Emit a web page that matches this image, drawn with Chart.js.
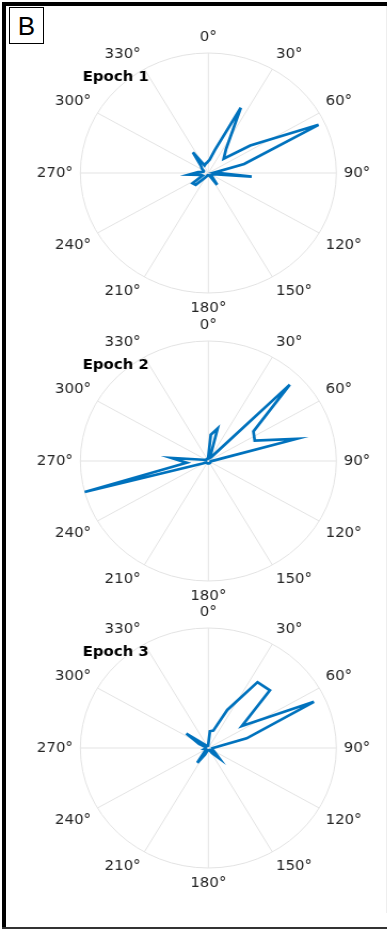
<!DOCTYPE html>
<html>
<head>
<meta charset="utf-8">
<title>Epoch polar plots</title>
<script src="https://cdn.jsdelivr.net/npm/chart.js@4/dist/chart.umd.min.js"></script>
<style>
  html, body { margin: 0; padding: 0; background: #fff; }
  #page { position: relative; width: 387px; height: 929px; overflow: hidden; background: #fff; }
  .rule { position: absolute; background: #000; }
  .panel { position: absolute; left: 0; width: 363px; height: 320px; transform: scaleX(1.0667); transform-origin: 0 0; }
  .panel canvas { display: block; }
  #tag { position: absolute; left: 9px; top: 7px; width: 33px; height: 35px; border: 1.5px solid #000;
         font: 26px "Liberation Sans", Arial, sans-serif; color: #000; text-align: center; line-height: 36px; }
</style>
</head>
<body>
<div id="page">
  <div class="rule" style="left:2px;top:2px;right:0;height:4px;"></div>
  <div class="rule" style="left:2px;top:2px;width:4px;bottom:0;"></div>
  <div class="rule" style="left:2px;right:0;top:927px;height:2px;background:#333;"></div>
  <div class="rule" style="left:386px;top:6px;width:1px;bottom:16px;background:#eee;"></div>
  <div id="tag">B</div>
  <div class="panel" style="top:13px"><canvas id="c1" width="363" height="320"></canvas></div>
  <div class="panel" style="top:301px"><canvas id="c2" width="363" height="320"></canvas></div>
  <div class="panel" style="top:588px"><canvas id="c3" width="363" height="320"></canvas></div>
</div>
<script>
// Angular tick labels, every 30 degrees, clockwise from the top.
const angleTicks = ['0°', '30°', '60°', '90°', '120°', '150°', '180°', '210°', '240°', '270°', '300°', '330°'];

// Radial values per 10° bin, bin centres at 5°, 15°, ..., 355°.
const epoch1 = [
  0.11, 0.20, 0.60, 0.24, 0.17, 0.40, 0.95, 0.29, 0.05, 0.34,
  0.04, 0.03, 0.03, 0.04, 0.12, 0.03, 0.02, 0.02, 0.02, 0.02,
  0.03, 0.05, 0.14, 0.15, 0.05, 0.06, 0.15, 0.08, 0.04, 0.04,
  0.06, 0.08, 0.21, 0.07, 0.08, 0.09
];
const epoch2 = [
  0.22, 0.28, 0.03, 0.04, 0.90, 0.43, 0.40, 0.71, 0.04, 0.02,
  0.02, 0.02, 0.02, 0.02, 0.02, 0.02, 0.02, 0.02, 0.02, 0.02,
  0.02, 0.02, 0.02, 0.02, 0.05, 1.00, 0.17, 0.29, 0.04, 0.02,
  0.02, 0.02, 0.02, 0.02, 0.02, 0.02
];
const epoch3 = [
  0.14, 0.15, 0.35, 0.67, 0.68, 0.32, 0.91, 0.31, 0.05, 0.03,
  0.03, 0.04, 0.06, 0.12, 0.05, 0.02, 0.02, 0.02, 0.02, 0.02,
  0.06, 0.15, 0.04, 0.02, 0.02, 0.03, 0.02, 0.02, 0.02, 0.08,
  0.21, 0.04, 0.02, 0.02, 0.02, 0.02
];
const epochTitles = ['Epoch 1', 'Epoch 2', 'Epoch 3'];

// The radial axis runs on a 5° step: grid spokes and labels sit on every
// sixth step, bin values on the odd steps (5°, 15°, ...).
const STEPS = 72;
const spokeLabels = Array.from({length: STEPS}, (_, i) => (i % 6 === 0 ? angleTicks[i / 6] : ''));
function binsToSteps(bins) {
  return Array.from({length: STEPS}, (_, i) => (i % 2 === 1 ? bins[(i - 1) / 2] : null));
}

// Fixed polar geometry inside each canvas.
const CX = 195.3, CY = 160, R = 120;

function makePolar(canvasId, title, bins) {
  new Chart(document.getElementById(canvasId), {
    type: 'radar',
    data: {
      labels: spokeLabels,
      datasets: [{
        data: binsToSteps(bins),
        borderColor: '#0072BD',
        borderWidth: 2.7,
        borderJoinStyle: 'miter',
        pointRadius: 0,
        pointHoverRadius: 0,
        fill: false,
        tension: 0,
        spanGaps: true,
        clip: false
      }]
    },
    options: {
      responsive: false,
      animation: false,
      events: [],
      layout: { padding: { left: 77.5, top: 0, right: 0, bottom: 0 } },
      plugins: {
        legend: { display: false },
        tooltip: { enabled: false },
        title: {
          display: true,
          text: title,
          align: 'start',
          color: '#000',
          font: { family: 'DejaVu Sans', size: 14, weight: 'bold', lineHeight: 1.2 },
          padding: { top: 56, bottom: 0 }
        }
      },
      scales: {
        r: {
          min: 0,
          max: 1,
          startAngle: 0,
          ticks: { display: false, stepSize: 1 },
          grid: { circular: true, color: '#e3e3e3', lineWidth: 1 },
          angleLines: {
            display: true,
            color: '#e3e3e3',
            lineWidth: (ctx) => (ctx.index % 6 === 0 ? 1 : 0)
          },
          pointLabels: {
            display: true,
            padding: 7,
            color: '#262626',
            font: { family: 'DejaVu Sans', size: 14 }
          },
          afterSetDimensions(scale) {
            scale.xCenter = CX;
            scale.yCenter = CY;
            scale.drawingArea = R;
            scale.setCenterPoint = function () {};
          }
        }
      }
    }
  });
}

makePolar('c1', epochTitles[0], epoch1);
makePolar('c2', epochTitles[1], epoch2);
makePolar('c3', epochTitles[2], epoch3);
</script>
</body>
</html>
